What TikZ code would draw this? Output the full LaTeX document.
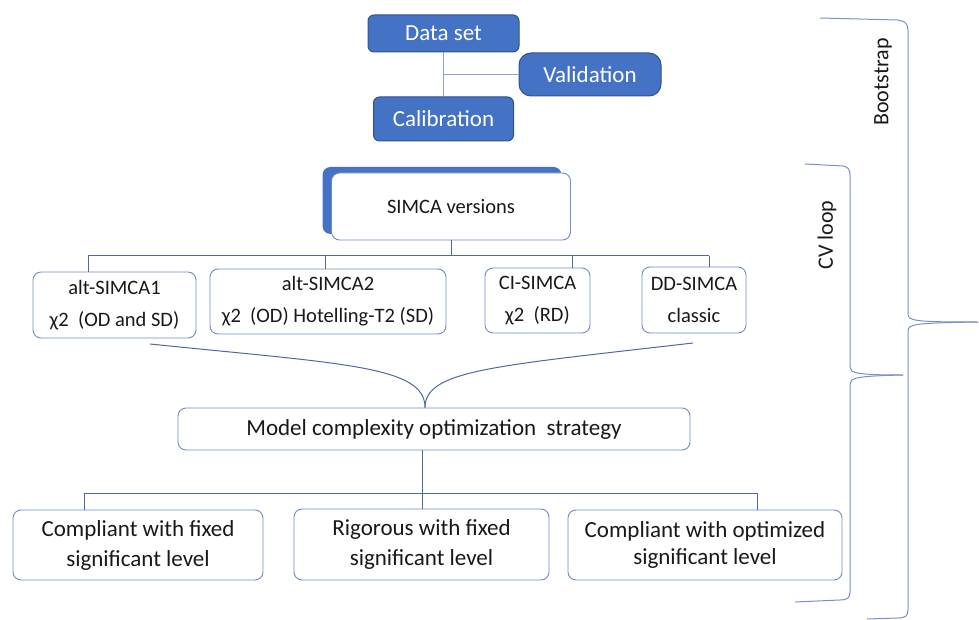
\documentclass[tikz,border=0pt]{standalone}
\usepackage{fontspec}
\setmainfont{Carlito}
\usepackage{xcolor}
\usetikzlibrary{shadows,calc}

\definecolor{boxblue}{RGB}{68,114,196}
\definecolor{boxedge}{RGB}{47,82,143}
\definecolor{lightedge}{RGB}{112,140,196}
\definecolor{linecol}{RGB}{78,105,160}
\definecolor{splitcol}{RGB}{140,160,200}
\definecolor{bracecol}{RGB}{120,145,205}
\definecolor{txt}{RGB}{25,25,25}
\newcommand\fsz[2]{\fontsize{#1}{#2}\selectfont}

\begin{document}
\begin{tikzpicture}[x=1pt, y=-1pt, inner sep=0pt, text=txt]
	\tikzstyle{bluebox}=[draw=boxedge, line width=1pt, fill=boxblue, text=white, rounded corners=6pt, font=\fsz{23}{28}]
	\tikzstyle{verbox}=[draw=lightedge, line width=0.9pt, fill=white, rounded corners=8pt, align=center, font=\fsz{20.5}{32}]
	\tikzstyle{optbox}=[draw=lightedge, line width=0.9pt, fill=white, rounded corners=8pt, align=center, font=\fsz{23}{30}]
	\tikzstyle{link}=[draw=linecol, line width=1pt]
	\tikzstyle{brace}=[draw=bracecol, line width=1pt]
	
	\useasboundingbox (0,0) rectangle (979,620);
	
	% data split
	\node[bluebox, minimum width=151pt, minimum height=37pt] (data) at (443.5,33.5) {Data set};
	\node[bluebox, rounded corners=12pt, minimum width=142pt, minimum height=43pt] (valid) at (590,74.5) {Validation};
	\node[bluebox, minimum width=140pt, minimum height=44pt] (calib) at (443.5,119) {Calibration};
	\draw[draw=splitcol, line width=1pt] (data.south) -- (calib.north);
	\draw[draw=splitcol, line width=1pt] (data.south |- valid.west) -- (valid.west);
	
	% SIMCA versions
	\node[verbox, font=\fsz{20.5}{26}, minimum width=239pt, minimum height=67pt,
		drop shadow={shadow xshift=-9pt, shadow yshift=6pt, fill=boxblue, opacity=1}] (simca) at (451,206.5) {SIMCA versions};
	
	\node[verbox, minimum width=163pt, minimum height=66pt] (alt1) at (114.5,305) {alt-SIMCA1\\χ2~~(OD and SD)};
	\node[verbox, minimum width=236pt, minimum height=65pt] (alt2) at (328,301.5) {alt-SIMCA2\\χ2~~(OD) Hotelling-T2 (SD)};
	\node[verbox, minimum width=105pt, minimum height=65pt] (ci) at (537.5,300.5) {CI-SIMCA\\χ2~~(RD)};
	\node[verbox, minimum width=104pt, minimum height=66pt] (dd) at (694,300) {DD-SIMCA\\classic};
	
	\coordinate (v0) at (451,256);
	\coordinate (v1) at (88,256);
	\coordinate (v2) at (325,256);
	\coordinate (v3) at (572,256);
	\coordinate (v4) at (709,256);
	\draw[link] (simca.south) -- (v0);
	\draw[link] (v1) -- (v4);
	\draw[link] (v1) -- (v1 |- alt1.north);
	\draw[link] (v2) -- (v2 |- alt2.north);
	\draw[link] (v3) -- (v3 |- ci.north);
	\draw[link] (v4) -- (v4 |- dd.north);
	
	% strategy
	\node[optbox, minimum width=512pt, minimum height=42pt] (model) at (434,429) {Model complexity optimization~ strategy};
	
	\coordinate (lt) at (150,344);
	\coordinate (rt) at (693,343);
	\coordinate (mj) at ($(model.north)+(-9,0)$);
	\draw[link] (lt) .. controls (345,364) and (425,366) .. (mj);
	\draw[link] (rt) .. controls (495,366) and (425,370) .. (mj);
	
	\node[optbox, minimum width=250pt, minimum height=70pt] (fixc) at (138,545) {Compliant with fixed\\significant level};
	\node[optbox, minimum width=255pt, minimum height=71pt] (fixr) at (421.5,544.5) {Rigorous with fixed\\significant level};
	\node[optbox, font=\fsz{23}{27}, minimum width=274pt, minimum height=70pt] (optc) at (705,545) {Compliant with optimized\\significant level};
	
	\coordinate (w0) at ($(model.south)+(-12,0)$);
	\coordinate (w1) at (84,493);
	\coordinate (w2) at (422,493);
	\coordinate (w3) at (757,493);
	\draw[link] (w0) -- (w2);
	\draw[link] (w1) -- (w3);
	\draw[link] (w1) -- (w1 |- fixc.north);
	\draw[link] (w2) -- (w2 |- fixr.north);
	\draw[link] (w3) -- (w3 |- optc.north);
	
	% loops
	\draw[brace] (820,18) -- (898,20) .. controls (905,21) and (908,24) .. (908,30) -- (908,314)
		.. controls (908,321) and (915,322) .. (978,322);
	\draw[brace] (978,322) .. controls (915,323) and (908,324) .. (908,331) -- (908,610)
		.. controls (908,616) and (905,618) .. (898,618) -- (867,619);
	\draw[brace] (805,164) -- (843,166) .. controls (848,167) and (850,169) .. (850,175) -- (850,367)
		.. controls (850,373) and (856,375) .. (903,375);
	\draw[brace] (903,375) .. controls (856,376) and (850,378) .. (850,384) -- (850,592)
		.. controls (850,598) and (847,600) .. (840,600) -- (795,602);
	\node[rotate=90, font=\fsz{22}{26}] (boot) at (883,82) {Bootstrap};
	\node[rotate=90, font=\fsz{22}{26}] (cv) at (827,235) {CV loop};
\end{tikzpicture}
\end{document}
